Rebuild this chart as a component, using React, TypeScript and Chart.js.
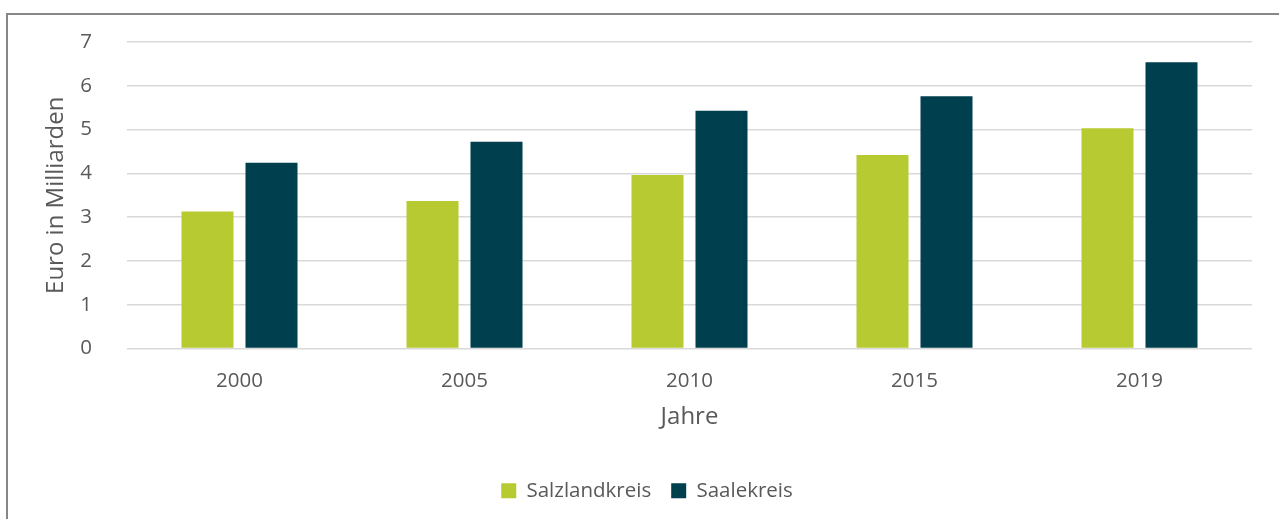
import React, { useEffect, useRef } from "react";
import { Chart, registerables } from "chart.js";

Chart.register(...registerables);

const categories = ["2000", "2005", "2010", "2015", "2019"];
const salzlandkreis = [3.13, 3.37, 3.96, 4.42, 5.03];
const saalekreis = [4.24, 4.72, 5.43, 5.76, 6.54];
const seriesNames = ["Salzlandkreis", "Saalekreis"];
const yTitle = "Euro in Milliarden";
const xTitle = "Jahre";

const FONT = "'Open Sans', sans-serif";
const TEXT = "#595959";

export default function App() {
  const ref = useRef<HTMLCanvasElement | null>(null);

  useEffect(() => {
    if (!ref.current) return;
    const chart = new Chart(ref.current, {
      type: "bar",
      data: {
        labels: categories,
        datasets: [
          {
            label: seriesNames[0],
            data: salzlandkreis,
            backgroundColor: "#b7ca32",
            categoryPercentage: 0.569,
            barPercentage: 0.8125,
          },
          {
            label: seriesNames[1],
            data: saalekreis,
            backgroundColor: "#003f4e",
            categoryPercentage: 0.569,
            barPercentage: 0.8125,
          },
        ],
      },
      options: {
        responsive: false,
        animation: false,
        layout: { padding: { left: 42, right: 27, top: 42, bottom: 8 } },
        plugins: {
          tooltip: { enabled: false },
          legend: {
            position: "bottom",
            labels: {
              boxWidth: 15,
              boxHeight: 15,
              padding: 20,
              color: TEXT,
              font: { family: FONT, size: 20.5 },
            },
          },
        },
        scales: {
          x: {
            grid: { display: false },
            border: { display: false },
            ticks: { color: TEXT, font: { family: FONT, size: 20.5 }, padding: 12.5 },
            title: {
              display: true,
              text: xTitle,
              color: TEXT,
              font: { family: FONT, size: 24 },
              padding: { top: 11, bottom: 28.6 },
            },
            afterFit: (s: any) => {
              s.height = 112;
            },
          },
          y: {
            min: 0,
            max: 7,
            ticks: { stepSize: 1, color: TEXT, font: { family: FONT, size: 20.5 }, padding: 35 },
            grid: { color: "#d9d9d9", lineWidth: 1.5, drawTicks: false },
            border: { display: false },
            title: {
              display: true,
              text: yTitle,
              color: TEXT,
              font: { family: FONT, size: 24 },
              padding: { top: 0, bottom: 0 },
            },
            afterFit: (s: any) => {
              s.width = 85;
              s.paddingTop = 0;
              s.paddingBottom = 0;
            },
          },
        },
      },
    });
    return () => chart.destroy();
  }, []);

  return (
    <div style={{ position: "fixed", left: 0, top: 0, width: 1279, height: 519, background: "#fff", overflow: "hidden" }}>
      <canvas ref={ref} width={1279} height={519} style={{ position: "absolute", left: 0, top: 0 }} />
      <div
        style={{
          position: "absolute",
          left: 6,
          top: 13,
          width: 1400,
          height: 600,
          borderTop: "2px solid #878787",
          borderLeft: "2px solid #878787",
          pointerEvents: "none",
        }}
      />
    </div>
  );
}
